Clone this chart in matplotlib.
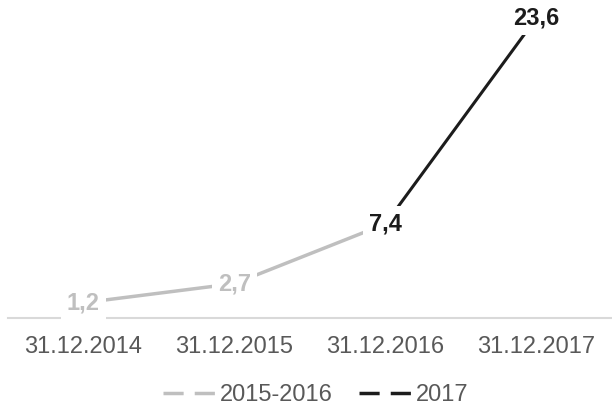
import matplotlib
matplotlib.use("Agg")
import matplotlib.pyplot as plt
from matplotlib.lines import Line2D

categories = ["31.12.2014", "31.12.2015", "31.12.2016", "31.12.2017"]
series_names = ["2015-2016", "2017"]
gray_x = [0, 1, 2]
gray_vals = [1.2, 2.7, 7.4]
black_x = [2, 3]
black_vals = [7.4, 23.6]

GRAY = "#bfbfbf"
BLACK = "#1c1c1c"
TEXT = "#595959"

plt.rcParams["font.family"] = ["Liberation Sans", "DejaVu Sans"]

fig = plt.figure(figsize=(6.12, 4.07), dpi=100)
ax = fig.add_axes([0.013, 0.2187, 0.987, 0.7813])

ax.plot(gray_x, gray_vals, color=GRAY, lw=2.5, solid_capstyle="butt", zorder=2)
ax.plot(black_x, black_vals, color=BLACK, lw=2.2, solid_capstyle="butt", zorder=2)

def fmt(v):
    return f"{v:.1f}".replace(".", ",")

for x, v in zip(gray_x[:2], gray_vals[:2]):
    ax.text(x, v, fmt(v), ha="center", va="center", fontsize=17, fontweight="bold",
            color=GRAY, zorder=5, clip_on=False,
            bbox=dict(boxstyle="square,pad=0.25", fc="white", ec="none"))
for x, v in zip(black_x, black_vals):
    ax.text(x, v, fmt(v), ha="center", va="center", fontsize=17, fontweight="bold",
            color=BLACK, zorder=5, clip_on=False,
            bbox=dict(boxstyle="square,pad=0.25", fc="white", ec="none"))

ax.set_xlim(-0.5, 3.5)
ax.set_ylim(0, 25)
ax.set_xticks(range(len(categories)))
ax.set_xticklabels(categories, fontsize=17, color=TEXT)
ax.tick_params(axis="x", length=0, pad=13)
ax.set_yticks([])
for s in ["top", "right", "left"]:
    ax.spines[s].set_visible(False)
ax.spines["bottom"].set_color("#d9d9d9")
ax.spines["bottom"].set_linewidth(1.5)
ax.spines["bottom"].set_zorder(1)

handles = [
    Line2D([], [], color=GRAY, lw=2.5, linestyle=(0, (5.8, 3.2))),
    Line2D([], [], color=BLACK, lw=2.5, linestyle=(0, (5.8, 3.2))),
]
fig.legend(handles, series_names, loc="center", bbox_to_anchor=(0.516, 0.03),
           ncol=2, frameon=False, fontsize=17, labelcolor=TEXT,
           handlelength=2.2, handletextpad=0.2, columnspacing=1.1)

fig.savefig("out.png", dpi=100)
